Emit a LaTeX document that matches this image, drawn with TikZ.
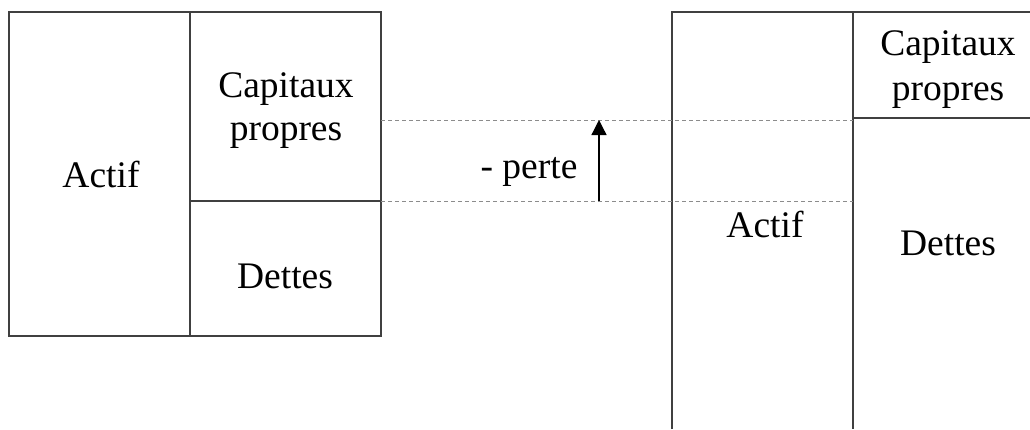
\documentclass[tikz,border=0pt]{standalone}
\usepackage{fontspec}
\setmainfont{Liberation Serif}
\usetikzlibrary{arrows.meta}
\begin{document}
\begin{tikzpicture}[x=1pt,y=-1pt,
  box/.style={draw=black!75,line width=1.2pt},
  guide/.style={draw=black!45,dashed,line width=0.8pt,dash pattern=on 4pt off 3pt},
  lbl/.style={font=\fontsize{37.5}{43}\selectfont,anchor=base,inner sep=0pt,align=center},
  arr/.style={draw=black,line width=1.3pt,-{Triangle[length=15pt,width=15pt]}}]
\useasboundingbox (0,0) rectangle (1030,429);
% left balance sheet
\draw[box] (9,12) rectangle (381,336);
\draw[box] (190,12) -- (190,336);
\draw[box] (190,201) -- (381,201);
% right balance sheet
\draw[box] (672,429) -- (672,12) -- (1031,12);
\draw[box] (853,12) -- (853,429);
\draw[box] (853,118) -- (1031,118);
% guides
\draw[guide] (381,120) -- (853,120);
\draw[guide] (381,201) -- (853,201);
% labels
\node[lbl] (aL) at (101,187) {Actif};
\node[lbl] (cpL1) at (286,97) {Capitaux};
\node[lbl] (cpL2) at (286,140) {propres};
\node[lbl] (dL) at (285,288) {Dettes};
\node[lbl] (cpR1) at (948,55) {Capitaux};
\node[lbl] (cpR2) at (948,100) {propres};
\node[lbl] (aR) at (765,237) {Actif};
\node[lbl] (dR) at (948,255) {Dettes};
\node[lbl] (perte) at (529,178) {- perte};
% arrow
\coordinate (a0) at (599,201);
\coordinate (a1) at (599,120);
\draw[arr] (a0) -- (a1);
\end{tikzpicture}
\end{document}
